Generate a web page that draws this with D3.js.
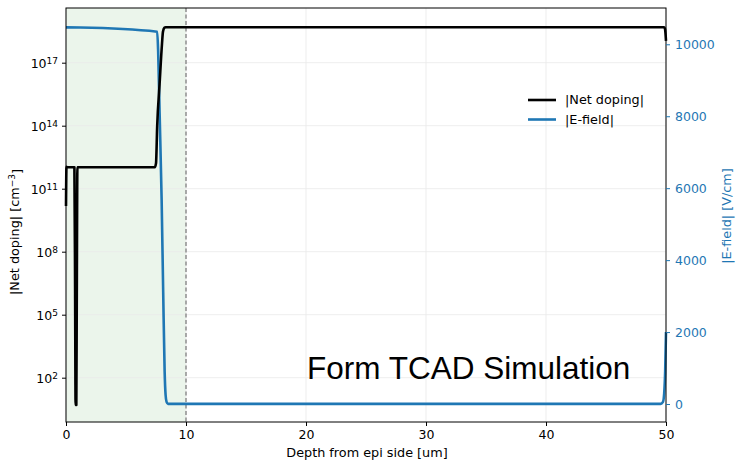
<!DOCTYPE html>
<html>
<head>
<meta charset="utf-8" />
<title>TCAD doping / E-field</title>
<style>
body { margin: 0; background: #fff; }
svg { font-family: "DejaVu Sans", sans-serif; }
.grid line { stroke: #e8e8e8; stroke-width: 0.8; }
</style>
</head>
<body>
<div id="graph"></div>
<script src="https://d3js.org/d3.v7.min.js"></script>
<script>

// depth [um] and |net doping| [cm^-3]
var dopX = [0, 0.04, 0.1, 0.5, 0.7, 0.76, 0.8, 0.86, 0.9, 0.95, 1.2, 7.4, 7.5, 7.6, 7.8, 8.0, 8.08, 8.2, 8.3, 49.85, 49.92, 50];
var dopV = [1.5e10, 1.1e12, 1.05e12, 1.05e12, 1.05e12, 1e6, 5, 5, 1e6, 1.05e12, 1.05e12, 1.05e12, 1.6e12, 1e14, 1e16, 8e17, 3e18, 4.6e18, 4.9e18, 4.9e18, 4e18, 1.1e18];

// depth [um] and |E-field| [V/cm]
var efX = [0, 1.2, 7.6, 7.68, 7.8, 7.97, 8.1, 8.22, 8.3, 8.38, 8.5, 49.55, 49.75, 49.85, 49.93, 50];
var efV = [10470, 10465, 10350, 9800, 8100, 5670, 3100, 900, 250, 60, 5, 5, 60, 300, 900, 2000];

var xTicks = [0, 10, 20, 30, 40, 50];
var dopTicks = [2, 5, 8, 11, 14, 17];          // exponents
var efTicks = [0, 2000, 4000, 6000, 8000, 10000];
var epiEnd = 10;

var W = 737, H = 462;
var m = {left: 66, right: 71, top: 8, bottom: 40};
var blue = "#1f77b4";

var svg = d3.select("#graph").append("svg").attr("width", W).attr("height", H);

var x = d3.scaleLinear().domain([0, 50]).range([m.left, W - m.right]);
var yL = d3.scaleLog().domain([Math.pow(10, -0.11), Math.pow(10, 19.605)]).range([H - m.bottom, m.top]);
var yR = d3.scaleLinear().domain([-500, 11009]).range([H - m.bottom, m.top]);

// epi region shading
svg.append("rect")
    .attr("x", x(0)).attr("y", m.top)
    .attr("width", x(epiEnd) - x(0)).attr("height", H - m.bottom - m.top)
    .attr("fill", "#ebf5eb");

// grid
var grid = svg.append("g").attr("class", "grid");
grid.selectAll(".gx").data(xTicks).enter().append("line")
    .attr("x1", d => x(d)).attr("x2", d => x(d))
    .attr("y1", m.top).attr("y2", H - m.bottom);
grid.selectAll(".gy").data(dopTicks).enter().append("line")
    .attr("x1", m.left).attr("x2", W - m.right)
    .attr("y1", d => yL(Math.pow(10, d))).attr("y2", d => yL(Math.pow(10, d)));

// boundary line
svg.append("line")
    .attr("x1", x(epiEnd)).attr("x2", x(epiEnd))
    .attr("y1", m.top).attr("y2", H - m.bottom)
    .attr("stroke", "#777").attr("stroke-width", 1.2)
    .attr("stroke-dasharray", "4,2.5");

// lines
var dopData = dopX.map((d, i) => [d, dopV[i]]);
var efData = efX.map((d, i) => [d, efV[i]]);

svg.append("path").datum(efData)
    .attr("fill", "none").attr("stroke", blue).attr("stroke-width", 2.6)
    .attr("stroke-linejoin", "round")
    .attr("d", d3.line().x(d => x(d[0])).y(d => yR(d[1])).curve(d3.curveMonotoneX));

svg.append("path").datum(dopData)
    .attr("fill", "none").attr("stroke", "#000").attr("stroke-width", 2.6)
    .attr("stroke-linejoin", "round")
    .attr("d", d3.line().x(d => x(d[0])).y(d => yL(d[1])).curve(d3.curveMonotoneX));

// frame
svg.append("rect")
    .attr("x", m.left).attr("y", m.top)
    .attr("width", W - m.right - m.left).attr("height", H - m.bottom - m.top)
    .attr("fill", "none").attr("stroke", "#000").attr("stroke-width", 1);

// axes
var xAxis = svg.append("g")
    .attr("transform", "translate(0," + (H - m.bottom) + ")")
    .call(d3.axisBottom(x).tickValues(xTicks).tickSize(4).tickPadding(4));

var lAxis = svg.append("g")
    .attr("transform", "translate(" + m.left + ",0)")
    .call(d3.axisLeft(yL).tickValues(dopTicks.map(e => Math.pow(10, e))).tickSize(4).tickPadding(4).tickFormat(""));

lAxis.selectAll(".tick").append("text")
    .attr("x", -8).attr("dy", "0.4em")
    .attr("text-anchor", "end").attr("fill", "#000")
    .each(function(d) {
        var t = d3.select(this);
        t.append("tspan").text("10");
        t.append("tspan").attr("dy", "-0.45em").style("font-size", "9px")
            .text(Math.round(Math.log10(d)));
    });

var rAxis = svg.append("g")
    .attr("transform", "translate(" + (W - m.right) + ",0)")
    .call(d3.axisRight(yR).tickValues(efTicks).tickSize(4).tickPadding(5).tickFormat(d3.format("d")));
rAxis.selectAll("line").attr("stroke", blue);
rAxis.selectAll("text").attr("fill", blue);

[xAxis, lAxis, rAxis].forEach(a => {
    a.select(".domain").remove();
    a.selectAll(".tick > text").style("font-size", "12.5px").style("font-family", "DejaVu Sans, sans-serif");
});

// axis labels
svg.append("text")
    .attr("x", (m.left + W - m.right) / 2 + 1).attr("y", 457)
    .attr("text-anchor", "middle").style("font-size", "12.8px")
    .text("Depth from epi side [um]");

var ly = svg.append("text")
    .attr("transform", "translate(19,232) rotate(-90)")
    .attr("text-anchor", "middle").style("font-size", "12.8px");
ly.append("tspan").text("|Net doping| [cm");
ly.append("tspan").attr("dy", "-0.45em").style("font-size", "9px").text("\u22123");
ly.append("tspan").attr("dy", "0.45em").text("]");

svg.append("text")
    .attr("transform", "translate(731,216) rotate(-90)")
    .attr("text-anchor", "middle").style("font-size", "12.8px")
    .attr("fill", blue)
    .text("|E-field| [V/cm]");

// legend
var legend = svg.append("g").attr("transform", "translate(528,100)");
[["|Net doping|", "#000"], ["|E-field|", blue]].forEach((d, i) => {
    legend.append("line")
        .attr("x1", 0).attr("x2", 28).attr("y1", i * 19.5).attr("y2", i * 19.5)
        .attr("stroke", d[1]).attr("stroke-width", 2.6);
    legend.append("text")
        .attr("x", 37).attr("y", i * 19.5).attr("dy", "0.35em")
        .style("font-size", "12.8px").text(d[0]);
});

// annotation
svg.append("text")
    .attr("x", 307).attr("y", 379)
    .style("font-family", "Liberation Sans, Arial, sans-serif")
    .style("font-size", "31.5px")
    .text("Form TCAD Simulation");

</script>
</body>
</html>
